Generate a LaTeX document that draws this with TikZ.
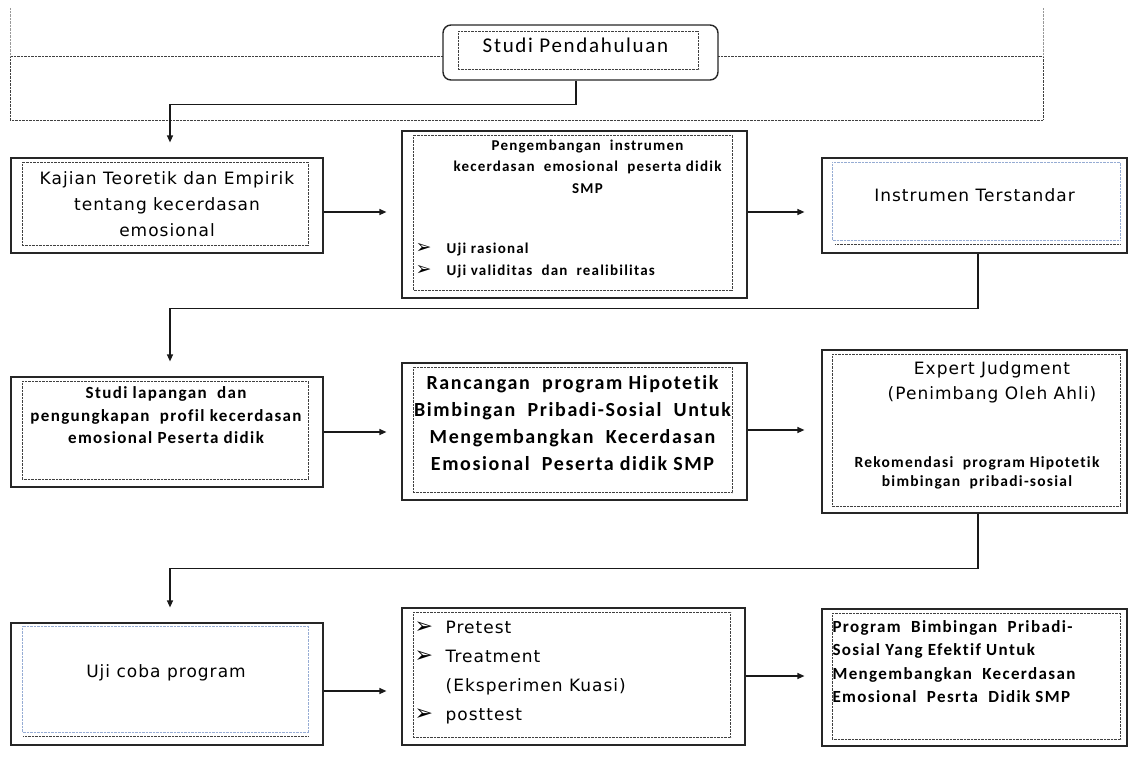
\documentclass[tikz,border=0pt]{standalone}
\usepackage{fontspec}
\setmainfont{Carlito}
\newfontfamily\verd{DejaVu Sans}[LetterSpace=6]
\newfontfamily\calib{Carlito}[LetterSpace=8,RawFeature={-liga;-clig;-calt;-dlig}]
\newfontfamily\simbol{DejaVu Sans}
\usetikzlibrary{arrows.meta,positioning}
\definecolor{garisbiru}{RGB}{150,172,212}
\newcommand{\panah}[1]{{\simbol\fontsize{#1}{#1}\selectfont ➢}}

\begin{document}
\begin{tikzpicture}[x=1pt,y=-1pt,
    kotak/.style={draw=black!85,line width=1.2pt,fill=white,inner sep=0pt},
    titik/.style={draw=black!75,line width=0.7pt,dash pattern=on 0.7pt off 0.7pt},
    titikbiru/.style={draw=garisbiru,line width=0.7pt,dash pattern=on 0.7pt off 0.7pt},
    alur/.style={draw=black!90,line width=1.2pt,-{Triangle[length=7pt,width=6pt]}},
    teks/.style={inner sep=0pt,align=center},
    daftar/.style={inner sep=0pt,align=left}]

  \useasboundingbox (0,0) rectangle (1128,761);

  % bingkai titik-titik di atas
  \draw[titik,line width=0.9pt] (10,56) rectangle (1043,120);
  \draw[titik,draw=black!40,line width=0.5pt] (10,8) -- (10,56) (1043,8) -- (1043,56);

  % kotak-kotak
  \node[kotak,line width=1.4pt,rounded corners=8pt,minimum width=275pt,minimum height=55pt] (Studi) at (580.5,52.5) {};
  \node[kotak,minimum width=312pt,minimum height=95pt] (Kajian) at (167,205.5) {};
  \node[kotak,minimum width=345pt,minimum height=167pt] (Instrumen) at (574.5,214.5) {};
  \node[kotak,minimum width=305pt,minimum height=95pt] (Terstandar) at (974.5,205.5) {};
  \node[kotak,minimum width=312pt,minimum height=110pt] (Lapangan) at (167,432) {};
  \node[kotak,minimum width=345pt,minimum height=137pt] (Rancangan) at (574.5,431.5) {};
  \node[kotak,minimum width=305pt,minimum height=163pt] (Expert) at (974.5,431.5) {};
  \node[kotak,minimum width=312pt,minimum height=122pt] (UjiCoba) at (167,684) {};
  \node[kotak,minimum width=343pt,minimum height=137pt] (Perlakuan) at (573.5,676.5) {};
  \node[kotak,minimum width=305pt,minimum height=137pt] (Produk) at (974.5,677.5) {};

  % garis titik-titik di dalam kotak
  \draw[titik] ([shift={(16,7)}]Studi.north west) rectangle ([shift={(-20,-11)}]Studi.south east);
  \foreach \n in {Kajian,Instrumen,Lapangan,Rancangan,Perlakuan}
    \draw[titik] ([shift={(12,5)}]\n.north west) rectangle ([shift={(-15,-8)}]\n.south east);
  \foreach \n in {Expert,Produk}
    \draw[titik] ([shift={(11,5)}]\n.north west) rectangle ([shift={(-7,-7)}]\n.south east);
  \draw[titikbiru] ([shift={(11,5)}]Terstandar.north west) rectangle ([shift={(-7,-13)}]Terstandar.south east);
  \draw[titik] ([shift={(14,-9)}]Terstandar.south west) -- ([shift={(-7,-9)}]Terstandar.south east);
  \draw[titikbiru] ([shift={(12,4)}]UjiCoba.north west) rectangle ([shift={(-15,-13)}]UjiCoba.south east);
  \draw[titik] ([shift={(13,-9)}]UjiCoba.south west) -- ([shift={(-15,-9)}]UjiCoba.south east);

  % teks
  \node[teks,font=\calib\fontsize{21}{24}\selectfont,below=13pt of Studi.north,xshift=-5pt] (StudiTeks) {Studi Pendahuluan};
  \node[teks,font=\verd\fontsize{17}{26}\selectfont,below=14pt of Kajian.north] (KajianTeks)
    {Kajian Teoretik dan Empirik\\tentang kecerdasan\\emosional};
  \node[teks,font=\calib\bfseries\fontsize{15}{21.5}\selectfont,below=9pt of Instrumen.north,xshift=13pt] (InstrumenJudul)
    {Pengembangan\ \ instrumen\\kecerdasan\ \ emosional\ \ peserta didik\\SMP};
  \node[daftar,font=\calib\bfseries\fontsize{15}{22.5}\selectfont,below right=112pt and 14pt of Instrumen.north west] (InstrumenUji)
    {\makebox[31pt][l]{\panah{19}}Uji rasional\\\makebox[31pt][l]{\panah{19}}Uji validitas\ \ dan\ \ realibilitas};
  \node[teks,font=\verd\fontsize{17}{20}\selectfont,below=31pt of Terstandar.north] (TerstandarTeks) {Instrumen Terstandar};
  \node[teks,font=\calib\bfseries\fontsize{17}{22.5}\selectfont,below=10pt of Lapangan.north,xshift=-1pt] (LapanganTeks)
    {Studi lapangan\ \ dan\\pengungkapan\ \ profil kecerdasan\\emosional Peserta didik};
  \node[teks,font=\calib\bfseries\fontsize{20}{27}\selectfont,below=13pt of Rancangan.north,xshift=-2pt] (RancanganTeks)
    {Rancangan\ \ program Hipotetik\\Bimbingan\ \ Pribadi-Sosial\ \ Untuk\\Mengembangkan\ \ Kecerdasan\\Emosional\ \ Peserta didik SMP};
  \node[teks,font=\verd\fontsize{17}{25}\selectfont,below=12pt of Expert.north,xshift=17.5pt] (ExpertJudul)
    {Expert Judgment\\(Penimbang Oleh Ahli)};
  \node[teks,font=\calib\bfseries\fontsize{15.5}{19}\selectfont,below=107pt of Expert.north,xshift=2.5pt] (ExpertRekom)
    {Rekomendasi\ \ program Hipotetik\\bimbingan\ \ pribadi-sosial};
  \node[teks,font=\verd\fontsize{17}{20}\selectfont,below=42pt of UjiCoba.north,xshift=-1pt] (UjiCobaTeks) {Uji coba program};
  \node[daftar,font=\verd\fontsize{17}{29}\selectfont,below right=13pt and 13pt of Perlakuan.north west] (PerlakuanTeks)
    {\makebox[31pt][l]{\panah{22}}Pretest\\\makebox[31pt][l]{\panah{22}}Treatment\\\makebox[31pt]{}(Eksperimen Kuasi)\\\makebox[31pt][l]{\panah{22}}posttest};
  \node[daftar,font=\calib\bfseries\fontsize{17}{23.3}\selectfont,below right=12pt and 11pt of Produk.north west] (ProdukTeks)
    {Program\ \ Bimbingan\ \ Pribadi-\\Sosial Yang Efektif Untuk\\Mengembangkan\ \ Kecerdasan\\Emosional\ \ Pesrta\ \ Didik SMP};

  % panah mendatar
  \draw[alur,shorten >=15pt] ([yshift=-6.5pt]Kajian.east) -- ([yshift=-6.5pt]Kajian.east -| Instrumen.west);
  \draw[alur,shorten >=17pt] ([yshift=2.5pt]Instrumen.east) -- ([yshift=2.5pt]Instrumen.east -| Terstandar.west);
  \draw[alur,shorten >=15pt] (Lapangan.east) -- (Lapangan.east -| Rancangan.west);
  \draw[alur,shorten >=17pt] ([yshift=1.5pt]Rancangan.east) -- ([yshift=1.5pt]Rancangan.east -| Expert.west);
  \draw[alur,shorten >=15pt] ([yshift=-7pt]UjiCoba.east) -- ([yshift=-7pt]UjiCoba.east -| Perlakuan.west);
  \draw[alur,shorten >=17pt] ([yshift=0.5pt]Perlakuan.east) -- ([yshift=0.5pt]Perlakuan.east -| Produk.west);

  % panah turun ke baris berikutnya
  \draw[alur,shorten >=15pt] ([xshift=-4.5pt]Studi.south) -- ++(0,24) -| ([xshift=3pt]Kajian.north);
  \draw[alur,shorten >=15pt] ([xshift=3.5pt]Terstandar.south) -- ++(0,55) -| ([xshift=3pt]Lapangan.north);
  \draw[alur,shorten >=15pt] ([xshift=3.5pt]Expert.south) -- ++(0,55) -| ([xshift=3pt]UjiCoba.north);
\end{tikzpicture}
\end{document}
